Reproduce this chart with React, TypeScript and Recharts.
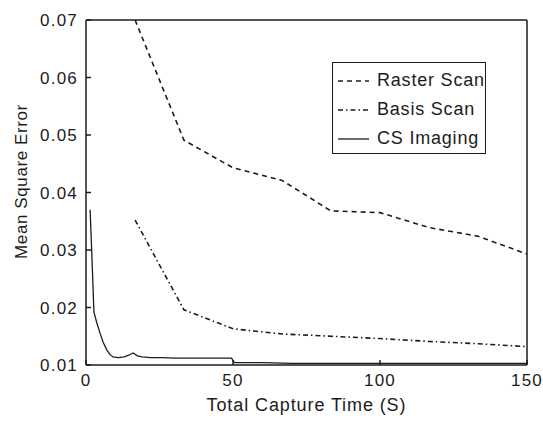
import { LineChart, Line, XAxis, YAxis, Legend, ReferenceLine } from 'recharts';

// capture time (s) and mean square error
const rasterTime = [16.7, 33.3, 50, 66.7, 83.3, 100, 116.7, 133.3, 150];
const rasterMse = [0.07, 0.0491, 0.0443, 0.0421, 0.0368, 0.0365, 0.0339, 0.0324, 0.0293];

const basisTime = [16.7, 33.3, 50, 66.7, 83.3, 100, 116.7, 133.3, 150];
const basisMse = [0.0352, 0.0196, 0.0163, 0.0154, 0.015, 0.0146, 0.0141, 0.0137, 0.0132];

const csTime = [1.4, 2, 2.7, 3.7, 4.8, 5.8, 7.1, 8.2, 9.2, 11, 13, 14.5, 16, 17.5, 19, 22, 26, 30, 35, 40, 45, 49.5, 50.5, 60, 70, 80, 90, 100, 110, 120, 130, 140, 150];
const csMse = [0.037, 0.029, 0.0192, 0.0173, 0.0155, 0.014, 0.0126, 0.0118, 0.0114, 0.0113, 0.0114, 0.0117, 0.0121, 0.0116, 0.0114, 0.0113, 0.0113, 0.0112, 0.0112, 0.0112, 0.0112, 0.0112, 0.0104, 0.0104, 0.0103, 0.0103, 0.0103, 0.0103, 0.0103, 0.0103, 0.0103, 0.0103, 0.0103];

const xTicks = [0, 50, 100, 150];
const yTicks = [0.01, 0.02, 0.03, 0.04, 0.05, 0.06, 0.07];

const seriesNames = ['Raster Scan', 'Basis Scan', 'CS Imaging'];

const toRows = (xs: number[], ys: number[]) => xs.map((t, i) => ({ t, mse: ys[i] }));

const ink = '#1c1c1c';
const font = '"Liberation Sans", Arial, sans-serif';

const legendDash = ['5 4', '5 3 1.5 3', undefined];

function LegendBox() {
  return (
    <div
      style={{
        width: 154,
        height: 92,
        border: `1px solid ${ink}`,
        background: '#fff',
        fontFamily: font,
        fontSize: 18,
        letterSpacing: 0.8,
        color: ink,
        boxSizing: 'border-box',
        paddingTop: 3,
      }}
    >
      {seriesNames.map((name, i) => (
        <div key={name} style={{ display: 'flex', alignItems: 'center', height: 29 }}>
          <svg width={44} height={10}>
            <line x1={5} x2={36} y1={5} y2={5} stroke={ink} strokeWidth={1.3} strokeDasharray={legendDash[i]} />
          </svg>
          <span>{name}</span>
        </div>
      ))}
    </div>
  );
}

export default function App() {
  return (
    <div style={{ position: 'absolute', left: 0, top: 0, width: 543, height: 421, background: '#fff' }}>
      <LineChart width={543} height={421} margin={{ top: 20, right: 16, bottom: 0, left: 0 }}>
        <XAxis
          dataKey="t"
          type="number"
          domain={[0, 150]}
          ticks={xTicks}
          height={56}
          stroke={ink}
          strokeWidth={1.5}
          tickSize={-5}
          tickMargin={14}
          tick={{ fill: ink, fontSize: 17, fontFamily: font, letterSpacing: 1.2 }}
          allowDuplicatedCategory={false}
          label={{ value: 'Total Capture Time (S)', position: 'insideBottom', offset: 10, fill: ink, fontSize: 18, fontFamily: font, letterSpacing: 0.9 }}
        />
        <YAxis
          type="number"
          domain={[0.01, 0.07]}
          ticks={yTicks}
          width={86}
          stroke={ink}
          strokeWidth={1.5}
          tickSize={-5}
          tickMargin={13}
          tick={{ fill: ink, fontSize: 17, fontFamily: font, letterSpacing: 1.2 }}
          label={{ value: 'Mean Square Error', angle: -90, position: 'insideLeft', offset: 14, dx: 7, dy: -11, fill: ink, fontSize: 17, fontFamily: font, letterSpacing: 0.6, style: { textAnchor: 'middle' } }}
        />
        {/* box frame, as in the MATLAB figure */}
        <ReferenceLine y={0.07} stroke={ink} strokeWidth={1.5} />
        <ReferenceLine x={150} stroke={ink} strokeWidth={1.5} />
        <Legend
          layout="vertical"
          align="center"
          verticalAlign="middle"
          content={() => <LegendBox />}
          wrapperStyle={{ left: 332, top: 62, width: 156, height: 94 }}
        />
        <Line
          data={toRows(rasterTime, rasterMse)}
          dataKey="mse"
          name={seriesNames[0]}
          type="linear"
          stroke={ink}
          strokeWidth={1.6}
          strokeDasharray="5 4"
          dot={false}
          isAnimationActive={false}
        />
        <Line
          data={toRows(basisTime, basisMse)}
          dataKey="mse"
          name={seriesNames[1]}
          type="linear"
          stroke={ink}
          strokeWidth={1.6}
          strokeDasharray="5 3 1.5 3"
          dot={false}
          isAnimationActive={false}
        />
        <Line
          data={toRows(csTime, csMse)}
          dataKey="mse"
          name={seriesNames[2]}
          type="linear"
          stroke={ink}
          strokeWidth={1.3}
          dot={false}
          isAnimationActive={false}
        />
      </LineChart>
    </div>
  );
}
